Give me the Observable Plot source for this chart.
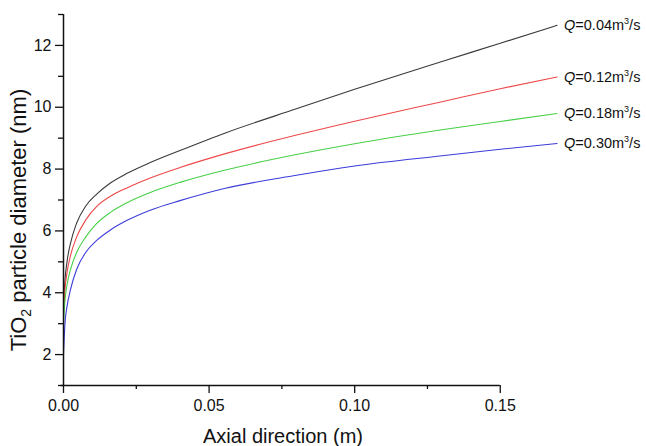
<!DOCTYPE html>
<html>
<head>
<meta charset="utf-8">
<script src="https://cdn.jsdelivr.net/npm/d3@7"></script>
<script src="https://cdn.jsdelivr.net/npm/@observablehq/plot@0.6"></script>
<style>
  html, body { margin: 0; padding: 0; background: #fff; }
  #chart { width: 646px; height: 446px; }
</style>
</head>
<body>
<div id="chart"></div>
<script>
// Axial position (m)
const xs = [0, 0.0005, 0.0012, 0.0024, 0.0045, 0.0076, 0.0115, 0.0161, 0.022, 0.03, 0.04, 0.0556, 0.08, 0.1, 0.13, 0.15, 0.1695];
// Particle diameter (nm) for each flow rate
const q004 = [3.5, 4.4, 5.0, 5.6, 6.25, 6.8, 7.2, 7.55, 7.87, 8.22, 8.6, 9.17, 9.95, 10.58, 11.48, 12.07, 12.65];
const q012 = [3.3, 4.1, 4.65, 5.2, 5.8, 6.35, 6.8, 7.12, 7.4, 7.72, 8.05, 8.5, 9.1, 9.55, 10.18, 10.6, 10.98];
const q018 = [3.0, 3.75, 4.25, 4.75, 5.3, 5.8, 6.25, 6.6, 6.92, 7.25, 7.57, 7.97, 8.47, 8.82, 9.27, 9.54, 9.8];
const q030 = [2.0, 3.0, 3.55, 4.1, 4.75, 5.3, 5.7, 6.03, 6.35, 6.68, 6.98, 7.38, 7.8, 8.1, 8.43, 8.64, 8.83];
const seriesLabels = ["Q=0.04m3/s", "Q=0.12m3/s", "Q=0.18m3/s", "Q=0.30m3/s"];
const seriesColors = ["#3a3a3a", "#ee4848", "#48d048", "#3c3cd8"];
const xMajor = [0, 0.05, 0.10, 0.15];
const xMinor = [0.025, 0.075, 0.125];
const yMajor = [2, 4, 6, 8, 10, 12];
const yMinor = [1, 3, 5, 7, 9, 11, 13];
const xTitle = "Axial direction (m)";
const yTitle = "TiO2 particle diameter (nm)";

const allSeries = [q004, q012, q018, q030];
const rows = [];
allSeries.forEach((vals, i) => {
  vals.forEach((v, j) => rows.push({x: xs[j], y: v, series: seriesLabels[i]}));
});

const chart = Plot.plot({
  width: 646,
  height: 446,
  marginLeft: 63,
  marginRight: 88,
  marginTop: 14,
  marginBottom: 61,
  style: {fontFamily: "'Liberation Sans', Arial, sans-serif", fontSize: "16px", color: "#111", background: "#fff"},
  x: {domain: [0, 0.17], label: null},
  y: {domain: [1, 13], label: null},
  color: {domain: seriesLabels, range: seriesColors},
  marks: [
    Plot.line(rows, {x: "x", y: "y", z: "series", stroke: "series", strokeWidth: 1.1, curve: "monotone-x"}),
    Plot.text(rows, Plot.selectLast({x: "x", y: "y", z: "series", text: "series", textAnchor: "start", dx: 7, fill: "#111", fontSize: 14.5, className: "qlab"})),
    Plot.ruleX([0], {y1: 1, y2: 13, stroke: "#111", strokeWidth: 1.5}),
    Plot.ruleY([1], {x1: -0.0008, x2: 0.15, stroke: "#111", strokeWidth: 1.5}),
    Plot.axisY({ticks: yMajor, tickSize: 8, tickPadding: 4, tickFormat: d => String(d), label: null, stroke: "#111", strokeWidth: 1.3, fontSize: 16}),
    Plot.axisY({ticks: yMinor, tickSize: 5, tickFormat: () => "", label: null, stroke: "#111", strokeWidth: 1.3}),
    Plot.axisX({ticks: xMajor, tickSize: 8, tickPadding: 6, tickFormat: d3.format(".2f"), label: null, stroke: "#111", strokeWidth: 1.3, fontSize: 16}),
    Plot.axisX({ticks: xMinor, tickSize: 4, tickFormat: () => "", label: null, stroke: "#111", strokeWidth: 1.3}),
    Plot.text([xTitle], {frameAnchor: "bottom", text: d => d, textAnchor: "middle", dx: -28, dy: 51, lineAnchor: "middle", fontSize: 20, fill: "#111"}),
    Plot.text([yTitle], {frameAnchor: "left", text: d => d, textAnchor: "middle", dx: -45, dy: 20, rotate: -90, lineAnchor: "middle", fontSize: 22, fill: "#111", className: "ytitle"})
  ]
});

document.getElementById("chart").appendChild(chart);

// Rich text: italic Q and superscript 3 in series labels
d3.select(chart).selectAll("g.qlab text").each(function() {
  const t = d3.select(this);
  const s = t.text();
  const m = s.match(/^Q(=.*m)3(\/s)$/);
  if (!m) return;
  t.text(null);
  t.append("tspan").attr("font-style", "italic").text("Q");
  t.append("tspan").text(m[1]);
  t.append("tspan").attr("font-size", 9).attr("dy", -6).text("3");
  t.append("tspan").attr("dy", 6).text(m[2]);
});
// Subscript 2 in y title
d3.select(chart).selectAll("g.ytitle text").each(function() {
  const t = d3.select(this);
  const s = t.text();
  const i = s.indexOf("2");
  t.text(null);
  t.append("tspan").text(s.slice(0, i));
  t.append("tspan").attr("font-size", 14).attr("dy", 5).text("2");
  t.append("tspan").attr("dy", -5).text(s.slice(i + 1));
});
</script>
</body>
</html>
